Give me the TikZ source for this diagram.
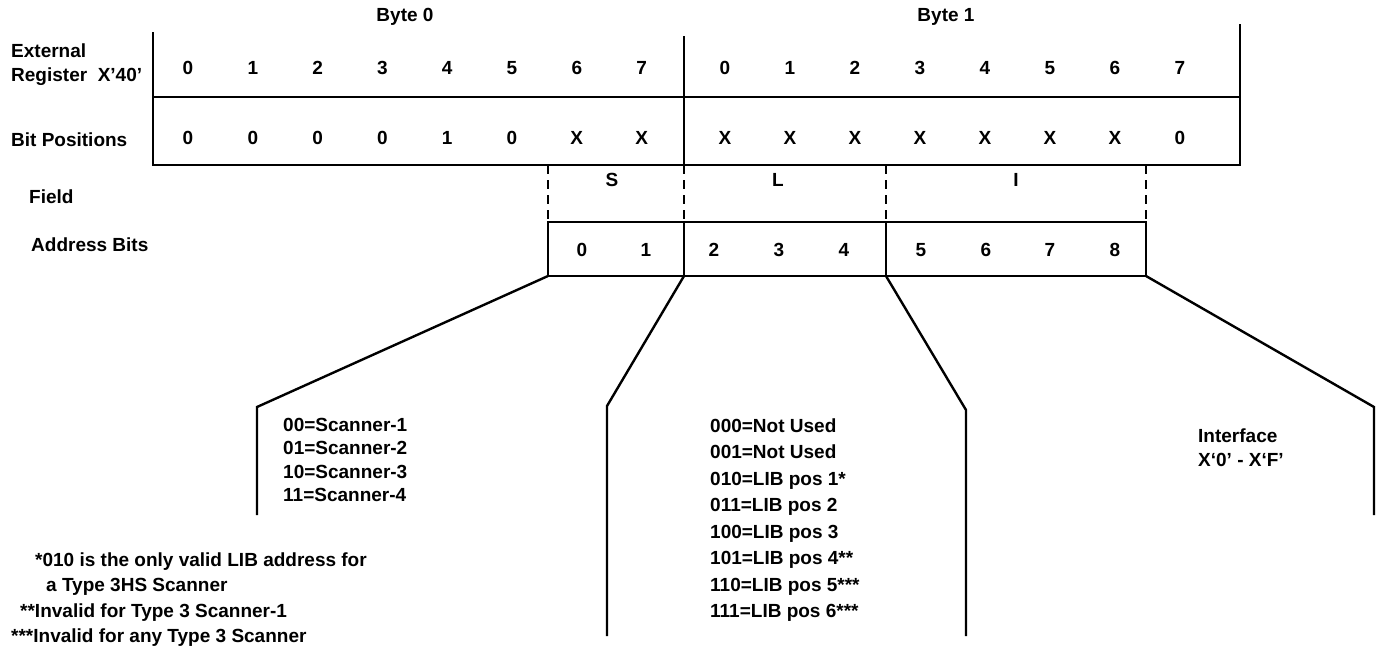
\documentclass[tikz,border=0pt]{standalone}
\usepackage{fontspec}
\setmainfont{Liberation Sans}
\usetikzlibrary{positioning}

\begin{document}
\begin{tikzpicture}[x=1pt,y=-1pt,
  every node/.style={font=\fontsize{19}{24}\selectfont\bfseries, inner sep=0pt},
  frame/.style={line width=2.8pt},
  gap/.style={line width=2pt, dash pattern=on 9pt off 6pt},
  fan/.style={line width=2.4pt, line join=miter}]
\useasboundingbox (0,0) rectangle (1377,654);
\newcommand{\rowreg}{68}
\newcommand{\rowbit}{138}

\node (byte0) at (405,17) {Byte 0};
\node (byte1) at (946,17) {Byte 1};
\node[anchor=west, align=left] (ext) at (11,64.5) {External\\Register\ \ X’40’};
\node[anchor=west] (bitpos) at (11,140) {Bit Positions};
\node[anchor=west] (field) at (29,197) {Field};
\node[anchor=west] (addr) at (31,245) {Address Bits};

\draw[frame] (153,32) -- (153,165) -- (1240,165) -- (1240,24);
\draw[frame] (153,97) -- (1240,97);
\draw[frame] (684,36) -- (684,165);
\draw[frame] (548,222) rectangle (1146,276);
\draw[frame] (684,222) -- (684,276) (886,222) -- (886,276);
\foreach \x in {548,684,886,1146}
  \draw[gap] (\x,165) -- (\x,222);

\foreach \v [count=\i from 0] in {0,0,0,0,1,0,X,X} {
  \node (ra\i) at ({188+64.8*\i},\rowreg) {\i};
  \node (pa\i) at ({188+64.8*\i},\rowbit) {\v};
}
\foreach \v [count=\i from 0] in {X,X,X,X,X,X,X,0} {
  \node (rb\i) at ({725+65*\i},\rowreg) {\i};
  \node (pb\i) at ({725+65*\i},\rowbit) {\v};
}

\node (fs) at (612,180) {S};
\node (fl) at (778,180) {L};
\node (fi) at (1016,180) {I};
\foreach \v/\x in {0/582,1/646,2/714,3/779,4/844,5/921,6/986,7/1050,8/1115}
  \node (ad\v) at (\x,250) {\v};

\coordinate (k1) at (257,407);
\coordinate (k2) at (607,406);
\coordinate (k3) at (966,410);
\coordinate (k4) at (1374,407);
\draw[fan] (548,276) -- (k1) -- (257,515);
\draw[fan] (684,276) -- (k2) -- (607,636);
\draw[fan] (886,276) -- (k3) -- (966,636);
\draw[fan] (1146,276) -- (k4) -- (1374,515);

\node[anchor=west, align=left, font=\fontsize{19}{23.5}\selectfont\bfseries] (scan) at (283,460)
  {00=Scanner-1\\01=Scanner-2\\10=Scanner-3\\11=Scanner-4};
\node[anchor=west, align=left, font=\fontsize{19}{26.5}\selectfont\bfseries] (lib) at (710,520)
  {000=Not Used\\001=Not Used\\010=LIB pos 1*\\011=LIB pos 2\\100=LIB pos 3\\101=LIB pos 4**\\110=LIB pos 5***\\111=LIB pos 6***};
\node[anchor=west, align=left] (intf) at (1198,447.5) {Interface\\X‘0’ - X‘F’};
\node[anchor=west, align=left, font=\fontsize{19}{25.5}\selectfont\bfseries] (notes) at (11,599.5)
  {\hspace*{24pt}*010 is the only valid LIB address for\\\hspace*{35pt}a Type 3HS Scanner\\\hspace*{9pt}**Invalid for Type 3 Scanner-1\\***Invalid for any Type 3 Scanner};
\end{tikzpicture}
\end{document}
